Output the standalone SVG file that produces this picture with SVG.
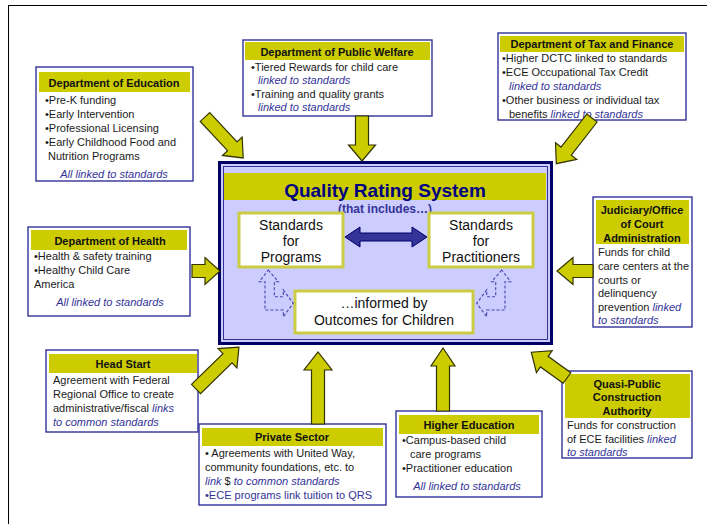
<svg xmlns="http://www.w3.org/2000/svg" width="707" height="524" viewBox="0 0 707 524">
<style>
text{font-family:"Liberation Sans",Arial,sans-serif;font-size:11px;fill:#1a1a1a}
.box{fill:#fff;stroke:#33339a;stroke-width:1.4}
.hdr{fill:#cccc00}
.ttl{font-weight:bold;text-anchor:middle;fill:#111}
.lk{font-style:italic;fill:#333399}
.c{text-anchor:middle}
.arr{fill:#cccc00;stroke:#333300;stroke-width:1.2;stroke-linejoin:miter}
.std{fill:#fff;stroke:#cccc44;stroke-width:3}
.stdt{font-size:14px;text-anchor:middle;fill:#111}
.dash{fill:none;stroke:#4444aa;stroke-width:1.1;stroke-dasharray:3 2}
</style>
<rect x="8.5" y="5.5" width="720" height="540" fill="none" stroke="#000" stroke-width="1"/>

<g id="qrs">
<rect x="219.5" y="162.5" width="332" height="181" fill="#ccccff" stroke="#000066" stroke-width="3"/>
<rect x="223.5" y="166.5" width="324" height="173" fill="none" stroke="#333399" stroke-width="1"/>
<rect x="224" y="173" width="322" height="27" class="hdr"/>
<text x="385" y="197" style="font-size:19px;font-weight:bold;fill:#000080" text-anchor="middle">Quality Rating System</text>
<text x="385" y="213" style="font-size:12px;font-weight:bold;fill:#333399" text-anchor="middle">(that includes…)</text>
</g>

<g id="programs">
<rect x="239" y="213" width="104" height="54" class="std"/>
<text x="291" y="230" class="stdt">Standards</text>
<text x="291" y="246" class="stdt">for</text>
<text x="291" y="262" class="stdt">Programs</text>
</g>

<g id="practitioners">
<rect x="429" y="213" width="104" height="54" class="std"/>
<text x="481" y="230" class="stdt">Standards</text>
<text x="481" y="246" class="stdt">for</text>
<text x="481" y="262" class="stdt">Practitioners</text>
</g>

<g id="outcomes">
<rect x="295" y="291" width="178" height="42" class="std"/>
<text x="384" y="308" class="stdt">…informed by</text>
<text x="384" y="325" class="stdt">Outcomes for Children</text>
</g>

<g id="education">
<rect x="36" y="67" width="157" height="114" class="box"/>
<rect x="39" y="72" width="151" height="20" class="hdr"/>
<text x="114" y="87" class="ttl">Department of Education</text>
<text x="45" y="104">•Pre-K funding</text>
<text x="45" y="118">•Early Intervention</text>
<text x="45" y="132">•Professional Licensing</text>
<text x="45" y="146">•Early Childhood Food and</text>
<text x="48" y="160">Nutrition Programs</text>
<text x="114" y="178" class="lk c">All linked to standards</text>
</g>

<g id="welfare">
<rect x="243" y="40" width="189" height="76" class="box"/>
<rect x="245" y="42" width="185" height="18" class="hdr"/>
<text x="337" y="56" class="ttl">Department of Public Welfare</text>
<text x="251" y="71">•Tiered Rewards for child care</text>
<text x="258" y="84" class="lk">linked to standards</text>
<text x="251" y="98">•Training and quality grants</text>
<text x="258" y="111" class="lk">linked to standards</text>
</g>

<g id="tax">
<rect x="498" y="33" width="188" height="87" class="box"/>
<rect x="500" y="36" width="184" height="16" class="hdr"/>
<text x="592" y="48" class="ttl">Department of Tax and Finance</text>
<text x="502" y="62">•Higher DCTC linked to standards</text>
<text x="502" y="76">•ECE Occupational Tax Credit</text>
<text x="509" y="90" class="lk">linked to standards</text>
<text x="502" y="104">•Other business or individual tax</text>
<text x="509" y="118">benefits <tspan class="lk">linked to standards</tspan></text>
</g>

<g id="health">
<rect x="28" y="227" width="162" height="89" class="box"/>
<rect x="31" y="230" width="156" height="20" class="hdr"/>
<text x="110" y="245" class="ttl">Department of Health</text>
<text x="34" y="260">•Health &amp; safety training</text>
<text x="34" y="274">•Healthy Child Care</text>
<text x="34" y="288">America</text>
<text x="110" y="306" class="lk c">All linked to standards</text>
</g>

<g id="judiciary">
<rect x="593" y="197" width="99" height="130" class="box"/>
<rect x="596" y="200" width="93" height="44" class="hdr"/>
<text x="642" y="214" class="ttl">Judiciary/Office</text>
<text x="642" y="228" class="ttl">of Court</text>
<text x="642" y="242" class="ttl">Administration</text>
<text x="598" y="256">Funds for child</text>
<text x="598" y="270">care centers at the</text>
<text x="598" y="284">courts or</text>
<text x="598" y="297">delinquency</text>
<text x="598" y="311">prevention <tspan class="lk">linked</tspan></text>
<text x="598" y="324" class="lk">to standards</text>
</g>

<g id="headstart">
<rect x="46" y="350" width="152" height="82" class="box"/>
<rect x="49" y="354" width="148" height="19" class="hdr"/>
<text x="123" y="368" class="ttl">Head Start</text>
<text x="53" y="384">Agreement with Federal</text>
<text x="53" y="398">Regional Office to create</text>
<text x="53" y="412">administrative/fiscal <tspan class="lk">links</tspan></text>
<text x="53" y="426" class="lk">to common standards</text>
</g>

<g id="private">
<rect x="199" y="424" width="187" height="81" class="box"/>
<rect x="202" y="428" width="181" height="18" class="hdr"/>
<text x="292" y="441" class="ttl">Private Sector</text>
<text x="205" y="457">• Agreements with United Way,</text>
<text x="205" y="471">community foundations, etc. to</text>
<text x="205" y="485"><tspan class="lk">link</tspan> $ <tspan class="lk">to common standards</tspan></text>
<text x="205" y="499" style="fill:#333399">•ECE programs link tuition to QRS</text>
</g>

<g id="highered">
<rect x="396" y="411" width="146" height="86" class="box"/>
<rect x="399" y="415" width="140" height="19" class="hdr"/>
<text x="469" y="429" class="ttl">Higher Education</text>
<text x="402" y="444">•Campus-based child</text>
<text x="410" y="458">care programs</text>
<text x="402" y="472">•Practitioner education</text>
<text x="467" y="490" class="lk c">All linked to standards</text>
</g>

<g id="quasi">
<rect x="562" y="371" width="130" height="87" class="box"/>
<rect x="565" y="374" width="125" height="44" class="hdr"/>
<text x="627" y="388" class="ttl">Quasi-Public</text>
<text x="627" y="401" class="ttl">Construction</text>
<text x="627" y="415" class="ttl">Authority</text>
<text x="567" y="429">Funds for construction</text>
<text x="567" y="443">of ECE facilities <tspan class="lk">linked</tspan></text>
<text x="567" y="456" class="lk">to standards</text>
</g>

<g id="connectors">
<polygon class="dash" points="268.3,270 278.3,281.7 274.3,281.7 274.3,296.7 283.3,296.7 283.3,290 293.3,303.3 283.3,316.7 283.3,310 265,310 265,281.7 259.3,281.7"/>
<polygon class="dash" points="501.7,270 491.7,281.7 495.7,281.7 495.7,296.7 486.7,296.7 486.7,290 476.7,303.3 486.7,316.7 486.7,310 505,310 505,281.7 510.7,281.7"/>
<polygon points="345,237 360,227 360,233 412,233 412,227 427,237 412,247 412,241 360,241 360,247" fill="#333399" stroke="#000066" stroke-width="1"/>
<polygon class="arr" transform="translate(205,117) rotate(47)" points="0,-6.5 40,-6.5 40,-13.5 56,0 40,13.5 40,6.5 0,6.5"/>
<polygon class="arr" transform="translate(362,116) rotate(90)" points="0,-6.5 29,-6.5 29,-13.5 45,0 29,13.5 29,6.5 0,6.5"/>
<polygon class="arr" transform="translate(592,118) rotate(128)" points="0,-6.5 42,-6.5 42,-13.5 58,0 42,13.5 42,6.5 0,6.5"/>
<polygon class="arr" transform="translate(192,271) rotate(0)" points="0,-6.5 13,-6.5 13,-13.5 28,0 13,13.5 13,6.5 0,6.5"/>
<polygon class="arr" transform="translate(593,271) rotate(180)" points="0,-6.5 20,-6.5 20,-13.5 36,0 20,13.5 20,6.5 0,6.5"/>
<polygon class="arr" transform="translate(196,389) rotate(-44.3)" points="0,-6.5 44,-6.5 44,-13.5 60,0 44,13.5 44,6.5 0,6.5"/>
<polygon class="arr" transform="translate(318,424) rotate(-90)" points="0,-6.5 54,-6.5 54,-14 72,0 54,14 54,6.5 0,6.5"/>
<polygon class="arr" transform="translate(443,411) rotate(-90)" points="0,-6.5 45,-6.5 45,-12 63,0 45,12 45,6.5 0,6.5"/>
<polygon class="arr" transform="translate(567,378) rotate(-144.2)" points="0,-6.5 28,-6.5 28,-13.5 44,0 28,13.5 28,6.5 0,6.5"/>
</g>
</svg>
